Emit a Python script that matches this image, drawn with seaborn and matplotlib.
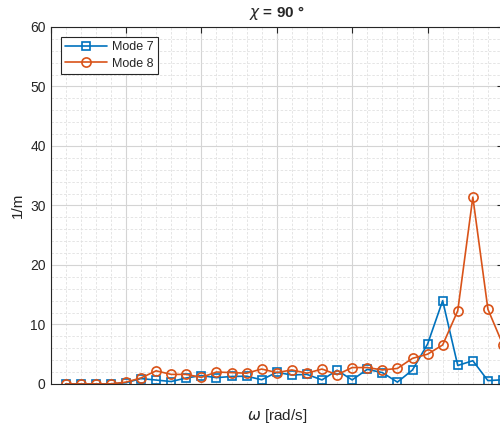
import numpy as np
import pandas as pd
import matplotlib
matplotlib.use('Agg')
import matplotlib.pyplot as plt
import seaborn as sns
from matplotlib.ticker import MultipleLocator, NullFormatter

# Datos (indice de frecuencia 1..30)
omega = list(range(1, 31))
mode7 = [0, 0, 0, 0, 0.2, 0.9, 0.65, 0.4, 1.0, 1.4,
         1.05, 1.25, 1.3, 0.7, 1.95, 1.5, 1.6, 0.67, 2.3, 0.67,
         2.45, 1.9, 0.3, 2.35, 6.7, 14.0, 3.1, 3.9, 0.55, 0.7]
mode8 = [0, 0, 0, 0, 0.3, 1.0, 2.2, 1.6, 1.6, 1.1,
         2.0, 1.9, 1.8, 2.5, 1.9, 2.35, 1.8, 2.5, 1.55, 2.75,
         2.75, 2.35, 2.6, 4.3, 5.0, 6.55, 12.3, 31.4, 12.55, 6.55]
series = ['Mode 7', 'Mode 8']

df = pd.DataFrame({
    'omega': omega * 2,
    'valor': mode7 + mode8,
    'modo': [series[0]] * len(omega) + [series[1]] * len(omega),
})

sns.set_style('white')
plt.rcParams['font.family'] = ['Liberation Sans', 'DejaVu Sans']

fig = plt.figure(figsize=(5, 4.28), dpi=100)
ax = fig.add_axes([0.101, 0.103, 0.905, 0.834])

colores = {'Mode 7': '#0072BD', 'Mode 8': '#D95319'}
sns.lineplot(data=df, x='omega', y='valor', hue='modo', style='modo',
             palette=colores, markers={'Mode 7': 's', 'Mode 8': 'o'},
             dashes=False, linewidth=1.2, legend=False, ax=ax)

# Marcadores huecos como en MATLAB
for line, nombre in zip(ax.lines, series):
    c = colores[nombre]
    line.set_markerfacecolor('none')
    line.set_markeredgecolor(c)
    line.set_markeredgewidth(1.2)
    line.set_markersize(5.4 if nombre == 'Mode 7' else 6.6)

ax.set_xlim(0, 30)
ax.set_ylim(0, 60)
ax.xaxis.set_major_locator(MultipleLocator(5))
ax.xaxis.set_minor_locator(MultipleLocator(1))
ax.xaxis.set_major_formatter(NullFormatter())
ax.yaxis.set_major_locator(MultipleLocator(10))
ax.yaxis.set_minor_locator(MultipleLocator(2))

ax.grid(True, which='major', color='#d4d4d4', linewidth=0.8)
ax.grid(True, which='minor', color='#e1e1e1', linewidth=0.6, linestyle=(0, (3, 2)))
ax.set_axisbelow(True)

for s in ax.spines.values():
    s.set_color('#262626')
    s.set_linewidth(0.8)
ax.tick_params(which='major', direction='in', length=4, width=0.8, color='#262626',
               top=True, right=True, labelsize=10, labelcolor='#262626')
ax.tick_params(which='minor', length=0)

ax.set_title(r'$\chi$ = 90 °', fontsize=11, fontweight='bold', pad=7)
ax.set_xlabel(r'$\omega$ [rad/s]', fontsize=11)
ax.xaxis.set_label_coords(0.5, -0.066)
ax.set_ylabel('1/m', fontsize=11, labelpad=4)

leg = ax.legend(handles=ax.lines, labels=series, loc='upper left',
                bbox_to_anchor=(0.023, 0.972), borderaxespad=0, fontsize=9,
                fancybox=False, framealpha=1, edgecolor='#262626',
                borderpad=0.35, handlelength=3.3, handletextpad=0.4,
                labelspacing=0.35)
leg.get_frame().set_linewidth(0.8)

fig.savefig('out.png', dpi=100)
